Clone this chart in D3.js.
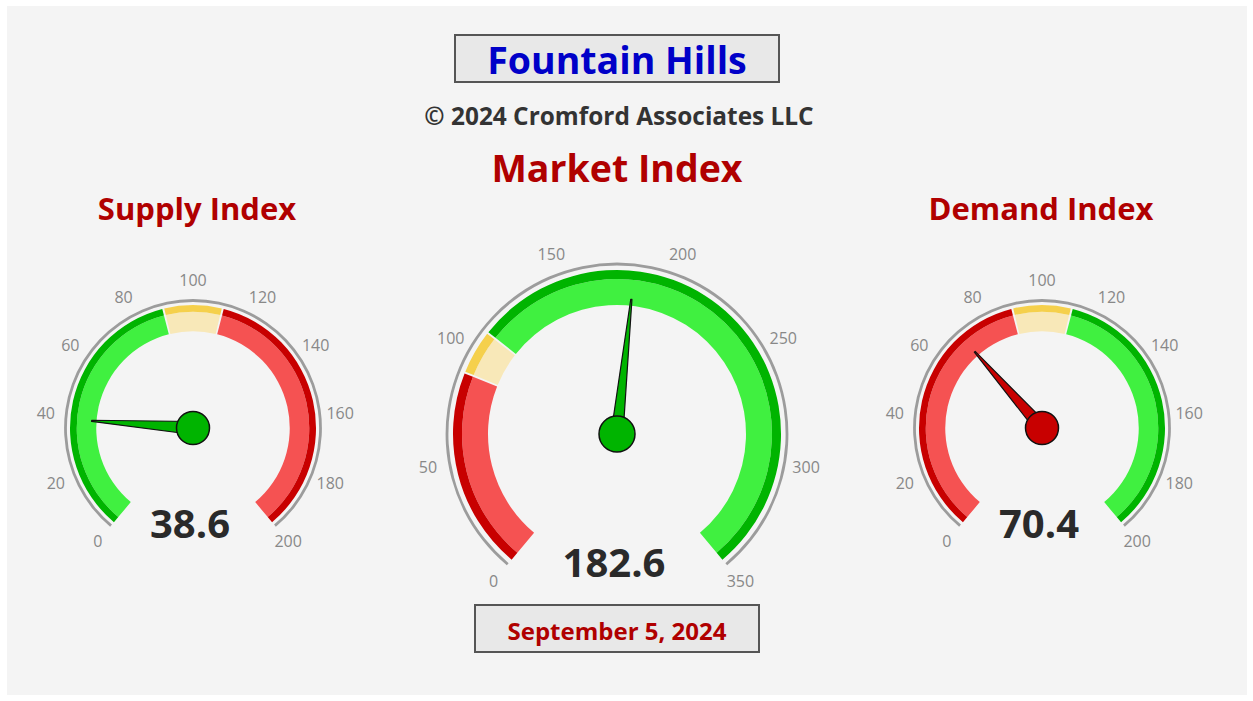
<!DOCTYPE html>
<html>
<head>
<meta charset="utf-8">
<script src="https://cdn.jsdelivr.net/npm/d3@7/dist/d3.min.js"></script>
<style>
  html, body { margin: 0; padding: 0; background: #ffffff; }
  svg { display: block; font-family: "Open Sans", "Noto Sans", sans-serif; }
</style>
</head>
<body>
<svg id="chart" width="1253" height="701"></svg>
<script>
// ---------------- data ----------------
const chartTitle = "Fountain Hills";
const copyrightText = "© 2024 Cromford Associates LLC";
const dateText = "September 5, 2024";
const gaugeNames = ["Supply Index", "Market Index", "Demand Index"];
const gaugeValues = [38.6, 182.6, 70.4];
const gaugeMax = [200, 350, 200];
const bandBreaks = [0, 90, 110];            // band starts; last band runs to max
const supplyBandKinds = ["good", "neutral", "bad"];
const marketBandKinds = ["bad", "neutral", "good"];
const demandBandKinds = ["bad", "neutral", "good"];
const supplyTicks = [0, 20, 40, 60, 80, 100, 120, 140, 160, 180, 200];
const marketTicks = [0, 50, 100, 150, 200, 250, 300, 350];
const demandTicks = [0, 20, 40, 60, 80, 100, 120, 140, 160, 180, 200];

// ---------------- styles / layout ----------------
const kindColors = {
  good:    { light: "#40f040", dark: "#00b400" },
  neutral: { light: "#f8e8b8", dark: "#f5d04c" },
  bad:     { light: "#f55252", dark: "#c80000" }
};
const layout = [
  { cx: 193, cy: 428, s: 0.75, titleY: 208, big: false },
  { cx: 617, cy: 434, s: 1.0,  titleY: 167, big: true },
  { cx: 1042, cy: 428, s: 0.75, titleY: 208, big: false }
];
const bandKinds = [supplyBandKinds, marketBandKinds, demandBandKinds];
const tickSets = [supplyTicks, marketTicks, demandTicks];
const deg = Math.PI / 180;

const svg = d3.select("#chart");
svg.append("rect").attr("x", 7).attr("y", 6).attr("width", 1240).attr("height", 689).attr("fill", "#f4f4f4");

// title box
svg.append("rect").attr("x", 455).attr("y", 35).attr("width", 324).attr("height", 47)
  .attr("fill", "#e8e8e8").attr("stroke", "#555").attr("stroke-width", 2);
svg.append("text").attr("x", 617).attr("y", 59).attr("text-anchor", "middle").attr("dominant-baseline", "central")
  .attr("font-size", 37.5).attr("font-weight", 700).attr("fill", "#0000c8").text(chartTitle);
svg.append("text").attr("x", 619).attr("y", 115).attr("text-anchor", "middle").attr("dominant-baseline", "central")
  .attr("font-size", 24.4).attr("font-weight", 700).attr("fill", "#333").text(copyrightText);

// date box
svg.append("rect").attr("x", 475).attr("y", 605).attr("width", 284).attr("height", 47)
  .attr("fill", "#e8e8e8").attr("stroke", "#555").attr("stroke-width", 2);
svg.append("text").attr("x", 617).attr("y", 630).attr("text-anchor", "middle").attr("dominant-baseline", "central")
  .attr("font-size", 24).attr("font-weight", 700).attr("fill", "#b00000").text(dateText);

gaugeNames.forEach((name, i) => {
  const L = layout[i];
  const s = L.s;
  const max = gaugeMax[i];
  const angle = d3.scaleLinear().domain([0, max]).range([-140 * deg, 140 * deg]);
  const g = svg.append("g").attr("transform", `translate(${L.cx},${L.cy})`);

  const rInner = 129 * s, rOuter = 164 * s, rDark = 155 * s, rRim = 170 * s;

  // title
  svg.append("text").attr("x", L.cx + (i === 0 ? 4 : (i === 2 ? -1 : 0))).attr("y", L.titleY)
    .attr("text-anchor", "middle").attr("dominant-baseline", "central")
    .attr("font-size", L.big ? 37.5 : 31).attr("font-weight", 700).attr("fill", "#b00000").text(name);

  // rim
  g.append("path").attr("d", d3.arc().innerRadius(rRim - 1.4).outerRadius(rRim + 1.4)
      .startAngle(angle(0)).endAngle(angle(max))())
    .attr("fill", "#9c9c9c");

  // bands
  const breaks = bandBreaks.concat([max]);
  const gap = 1.0 / rOuter;
  bandKinds[i].forEach((kind, b) => {
    const a0 = angle(breaks[b]) + (b > 0 ? gap : 0);
    const a1 = angle(breaks[b + 1]) - (b < bandKinds[i].length - 1 ? gap : 0);
    g.append("path").attr("d", d3.arc().innerRadius(rInner).outerRadius(rDark).startAngle(a0).endAngle(a1)())
      .attr("fill", kindColors[kind].light);
    g.append("path").attr("d", d3.arc().innerRadius(rDark).outerRadius(rOuter).startAngle(a0).endAngle(a1)())
      .attr("fill", kindColors[kind].dark);
  });

  // tick labels
  const rLab = 192 * s + (L.big ? 0 : 4);
  g.selectAll("text.tick").data(tickSets[i]).enter().append("text")
    .attr("x", d => rLab * Math.sin(angle(d)))
    .attr("y", d => -rLab * Math.cos(angle(d)))
    .attr("text-anchor", "middle").attr("dominant-baseline", "central")
    .attr("font-size", 16).attr("fill", "#888").text(d => d);

  // value text
  svg.append("text").attr("x", L.cx - 3).attr("y", L.cy + (L.big ? 143 : 110))
    .attr("text-anchor", "middle")
    .attr("font-size", 40).attr("font-weight", 700).attr("fill", "#2a2a2a").text(gaugeValues[i]);

  // needle
  const v = gaugeValues[i];
  const kindAtValue = bandKinds[i][d3.bisectRight(bandBreaks, v) - 1];
  const needleColor = kindColors[kindAtValue].dark;
  const len = rInner * 1.05;
  const bw = L.big ? 6 : 6.5;
  const a = angle(v);
  const pts = [[-bw, 0], [-0.6, -len], [0.6, -len], [bw, 0]];
  g.append("polygon")
    .attr("points", pts.map(p => p.join(",")).join(" "))
    .attr("transform", `rotate(${a / deg})`)
    .attr("fill", needleColor).attr("stroke", "#111").attr("stroke-width", 1.2).attr("stroke-linejoin", "round");
  g.append("circle").attr("r", L.big ? 18 : 16.5)
    .attr("fill", needleColor).attr("stroke", "#111").attr("stroke-width", 1.5);
});
</script>
</body>
</html>
